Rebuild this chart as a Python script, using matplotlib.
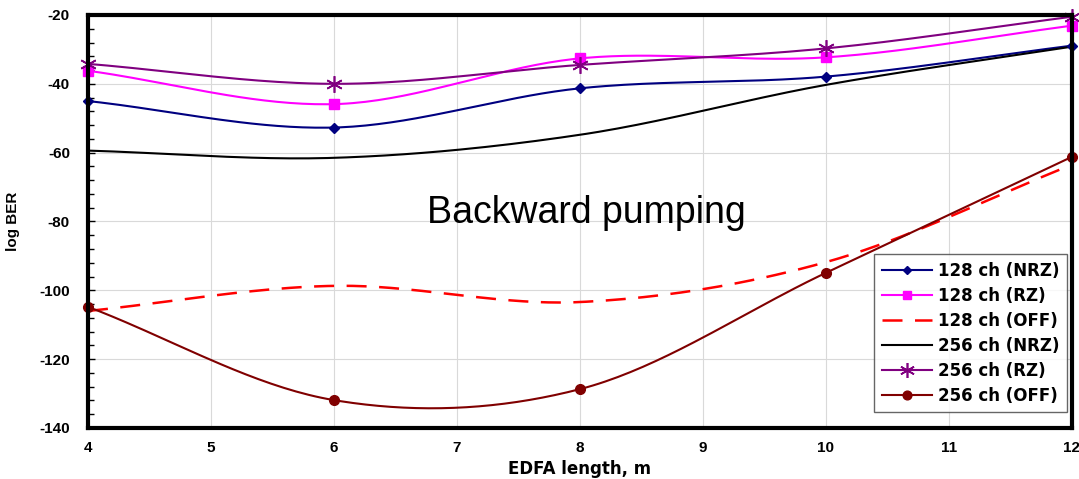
import numpy as np
import matplotlib
matplotlib.use('Agg')
import matplotlib.pyplot as plt

plt.rcParams['font.family'] = ['Liberation Sans', 'DejaVu Sans']
plt.rcParams['axes.unicode_minus'] = False

# EDFA length (m)
length = [4, 6, 8, 10, 12]

# log BER values
nrz_128 = [-45.0, -52.7, -41.3, -37.9, -28.9]
rz_128 = [-36.2, -45.9, -32.6, -32.3, -23.1]
off_128 = [-106.0, -98.7, -103.4, -91.8, -63.5]
nrz_256 = [-59.4, -61.5, -54.8, -40.3, -29.2]
rz_256 = [-34.2, -40.0, -34.5, -29.7, -20.5]
off_256 = [-104.8, -131.9, -128.7, -94.9, -61.2]


def smooth(x, y, n=40):
	# Catmull-Rom curve through the points, like Excel's smoothed line
	x = np.asarray(x, float)
	y = np.asarray(y, float)
	px = np.concatenate([[2 * x[0] - x[1]], x, [2 * x[-1] - x[-2]]])
	py = np.concatenate([[2 * y[0] - y[1]], y, [2 * y[-1] - y[-2]]])
	xs, ys = [], []
	t = np.linspace(0, 1, n)
	for i in range(1, len(px) - 2):
		for p, out in ((px, xs), (py, ys)):
			p0, p1, p2, p3 = p[i - 1], p[i], p[i + 1], p[i + 2]
			out.append(0.5 * (2 * p1 + (-p0 + p2) * t
				+ (2 * p0 - 5 * p1 + 4 * p2 - p3) * t ** 2
				+ (-p0 + 3 * p1 - 3 * p2 + p3) * t ** 3))
	return np.concatenate(xs), np.concatenate(ys)


series = [
	('128 ch (NRZ)', nrz_128, dict(color='#000080', marker='D', ms=5, ls='-', lw=1.5)),
	('128 ch (RZ)', rz_128, dict(color='#FF00FF', marker='s', ms=7, ls='-', lw=1.5)),
	('128 ch (OFF)', off_128, dict(color='#FF0000', marker=None, ls=(0, (8, 5)), lw=1.8)),
	('256 ch (NRZ)', nrz_256, dict(color='black', marker=None, ls='-', lw=1.5)),
	('256 ch (RZ)', rz_256, dict(color='#800080', marker=(6, 2, 0), ms=12, mew=1.2, ls='-', lw=1.5)),
	('256 ch (OFF)', off_256, dict(color='#800000', marker='o', ms=7, ls='-', lw=1.5)),
]

fig = plt.figure(figsize=(10.79, 4.79), dpi=100)
ax = fig.add_axes([88 / 1079, 1 - 428 / 479, (1072 - 88) / 1079, (428 - 15) / 479])

for label, vals, st in series:
	sx, sy = smooth(length, vals)
	ax.plot(sx, sy, color=st['color'], ls=st['ls'], lw=st['lw'], zorder=3)
	mk = st.get('marker')
	if mk is not None:
		ax.plot(length, vals, ls='none', marker=mk, ms=st['ms'], color=st['color'],
			mec=st['color'], mew=st.get('mew', 1), zorder=4, clip_on=False)
	ax.plot([], [], color=st['color'], ls=st['ls'], lw=st['lw'], marker=mk,
		ms=st.get('ms', 6) * 0.9, mew=st.get('mew', 1), label=label)

ax.set_xlim(4, 12)
ax.set_ylim(-140, -20)
ax.set_xticks(range(4, 13))
ax.set_yticks(range(-140, -19, 20))
ax.set_yticks(range(-140, -19, 4), minor=True)
ax.grid(True, color='#d9d9d9', lw=0.8, zorder=0)
ax.tick_params(axis='both', which='both', direction='in', labelsize=11, width=1)
ax.tick_params(axis='y', which='minor', length=4)
ax.tick_params(axis='y', which='major', length=5, pad=13)
ax.tick_params(axis='x', which='major', length=0, pad=9)
for lb in ax.get_xticklabels() + ax.get_yticklabels():
	lb.set_fontweight('bold')
for sp in ax.spines.values():
	sp.set_linewidth(3)
	sp.set_zorder(5)

ax.set_xlabel('EDFA length, m', fontsize=12, fontweight='bold', labelpad=4,
	family=['DejaVu Sans'])
ax.set_ylabel('log BER', fontsize=11, fontweight='bold', labelpad=14)

ax.text(8.05, -77.5, 'Backward pumping', fontsize=27, ha='center', va='center')

leg = ax.legend(loc='lower right', bbox_to_anchor=(0.9985, 0.03),
	prop={'weight': 'bold', 'size': 12, 'family': 'DejaVu Sans'}, frameon=True,
	fancybox=False, edgecolor='#404040', handlelength=3.0, labelspacing=0.42,
	borderpad=0.45, handletextpad=0.4, borderaxespad=0.2)
leg.get_frame().set_linewidth(1)
leg.set_zorder(6)

fig.savefig('out.png', dpi=100)
